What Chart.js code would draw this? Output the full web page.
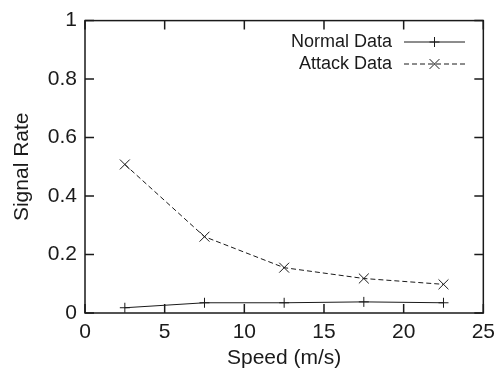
<!DOCTYPE html>
<html>
<head>
<meta charset="utf-8">
<script src="https://cdn.jsdelivr.net/npm/chart.js@4/dist/chart.umd.min.js"></script>
<style>
  html, body { margin: 0; padding: 0; background: #fff; }
  canvas { display: block; }
</style>
</head>
<body>
<canvas id="chart" width="502" height="371"></canvas>
<script>
const speeds = [2.5, 7.5, 12.5, 17.5, 22.5]
const normalRate = [0.018, 0.035, 0.035, 0.038, 0.035]
const attackRate = [0.508, 0.261, 0.155, 0.118, 0.098]
const xTicks = [0, 5, 10, 15, 20, 25]
const yTicks = [0, 0.2, 0.4, 0.6, 0.8, 1]

const FONT = 'Liberation Sans, Arial, Helvetica, sans-serif'
const INK = '#1a1a1a'

// gnuplot style frame with inward ticks on all four sides
const framePlugin = {
  id: 'frame',
  afterDatasetsDraw(chart) {
    const { ctx, chartArea: a, scales } = chart
    const len = 9
    ctx.save()
    ctx.strokeStyle = INK
    ctx.lineWidth = 1.5
    ctx.strokeRect(a.left, a.top, a.right - a.left, a.bottom - a.top)
    ctx.beginPath()
    xTicks.forEach(v => {
      const x = scales.x.getPixelForValue(v)
      ctx.moveTo(x, a.bottom); ctx.lineTo(x, a.bottom - len)
      ctx.moveTo(x, a.top); ctx.lineTo(x, a.top + len)
    })
    yTicks.forEach(v => {
      const y = scales.y.getPixelForValue(v)
      ctx.moveTo(a.left, y); ctx.lineTo(a.left + len, y)
      ctx.moveTo(a.right, y); ctx.lineTo(a.right - len, y)
    })
    ctx.stroke()
    ctx.restore()
  }
}

// legend inside the plot, text right aligned with a line sample after it
const keyPlugin = {
  id: 'key',
  afterDatasetsDraw(chart) {
    const { ctx } = chart
    const textRight = 392, x0 = 404, x1 = 465
    const rows = [42, 64]
    ctx.save()
    ctx.font = '18px ' + FONT
    ctx.fillStyle = INK
    ctx.textAlign = 'right'
    ctx.textBaseline = 'middle'
    chart.data.datasets.forEach((ds, i) => {
      const y = rows[i]
      ctx.fillText(ds.label, textRight, y)
      ctx.strokeStyle = ds.borderColor
      ctx.lineWidth = ds.borderWidth
      ctx.setLineDash(ds.borderDash || [])
      ctx.beginPath()
      ctx.moveTo(x0, y); ctx.lineTo(x1, y)
      ctx.stroke()
      ctx.setLineDash([])
      const cx = (x0 + x1) / 2, r = ds.pointRadius
      ctx.beginPath()
      if (ds.pointStyle === 'cross') {
        ctx.moveTo(cx - r, y); ctx.lineTo(cx + r, y)
        ctx.moveTo(cx, y - r); ctx.lineTo(cx, y + r)
      } else {
        const d = r * 0.707
        ctx.moveTo(cx - d, y - d); ctx.lineTo(cx + d, y + d)
        ctx.moveTo(cx - d, y + d); ctx.lineTo(cx + d, y - d)
      }
      ctx.stroke()
    })
    ctx.restore()
  }
}

new Chart(document.getElementById('chart'), {
  type: 'line',
  data: {
    datasets: [
      {
        label: 'Normal Data',
        data: speeds.map((s, i) => ({ x: s, y: normalRate[i] })),
        borderColor: INK,
        borderWidth: 1,
        pointStyle: 'cross',
        pointRadius: 5,
        pointBorderColor: INK,
        pointBorderWidth: 1,
        tension: 0
      },
      {
        label: 'Attack Data',
        data: speeds.map((s, i) => ({ x: s, y: attackRate[i] })),
        borderColor: INK,
        borderWidth: 1,
        borderDash: [5, 3],
        pointStyle: 'crossRot',
        pointRadius: 7,
        pointBorderColor: INK,
        pointBorderWidth: 1,
        tension: 0
      }
    ]
  },
  options: {
    responsive: false,
    animation: false,
    layout: { padding: { top: 17, right: 12, left: 0, bottom: 0 } },
    plugins: {
      legend: { display: false },
      tooltip: { enabled: false }
    },
    scales: {
      x: {
        type: 'linear',
        min: 0,
        max: 25,
        afterBuildTicks: s => { s.ticks = xTicks.map(v => ({ value: v })) },
        afterFit: s => { s.height = 58 },
        grid: { display: false, drawTicks: false },
        border: { display: false },
        ticks: { color: INK, padding: 7, font: { family: FONT, size: 21 }, callback: v => String(v) },
        title: {
          display: true,
          text: 'Speed (m/s)',
          color: INK,
          padding: { top: 0, bottom: 0 },
          font: { family: FONT, size: 21 }
        }
      },
      y: {
        min: 0,
        max: 1,
        afterBuildTicks: s => { s.ticks = yTicks.map(v => ({ value: v })) },
        afterFit: s => { s.width = 85 },
        grid: { display: false, drawTicks: false },
        border: { display: false },
        ticks: { color: INK, padding: 8, font: { family: FONT, size: 21 }, callback: v => String(v) },
        title: {
          display: true,
          text: 'Signal Rate',
          color: INK,
          padding: { top: 10, bottom: 0 },
          font: { family: FONT, size: 21 }
        }
      }
    }
  },
  plugins: [framePlugin, keyPlugin]
})
</script>
</body>
</html>
